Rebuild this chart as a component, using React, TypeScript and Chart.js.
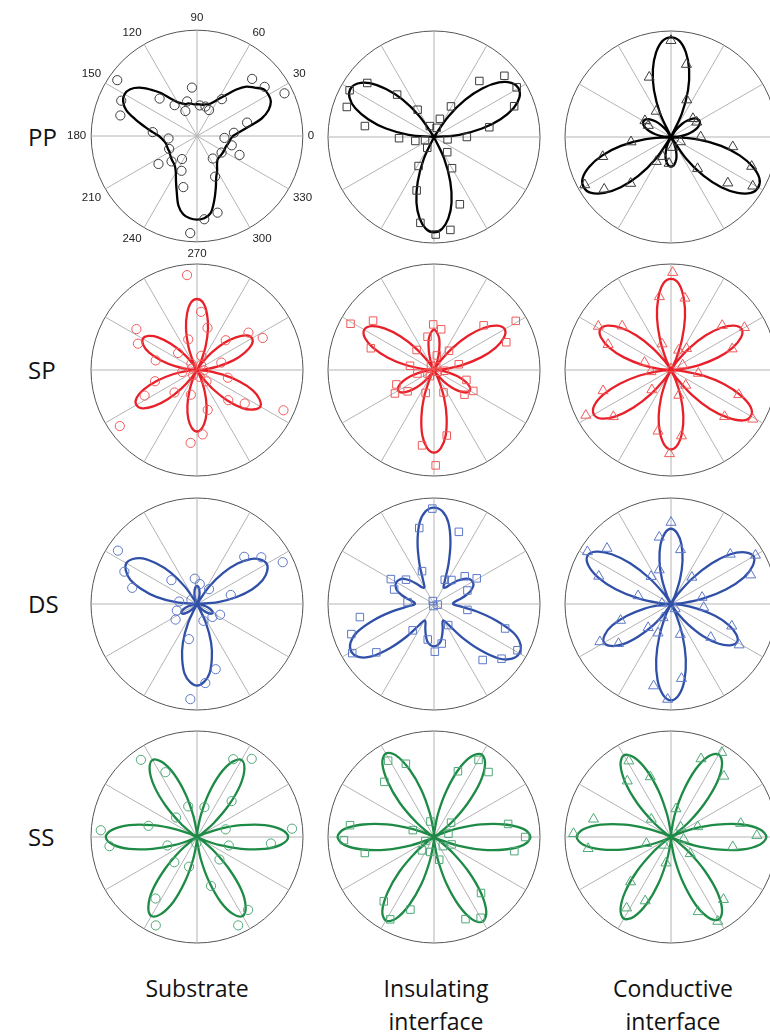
import React, { useEffect, useRef } from 'react';
import { Chart, registerables } from 'chart.js';

Chart.register(...registerables);

// ================= DATA =================
// Fitted curves: radius (fraction of outer circle) sampled every 5 degrees, theta = 0,5,...,355 (counter-clockwise from 0)
const CURVE_STEP_DEG = 5;
const ANGLE_TICKS = [0, 30, 60, 90, 120, 150, 180, 210, 240, 270, 300, 330];
const ROW_NAMES = ['PP', 'SP', 'DS', 'SS'];
const COL_NAMES = [['Substrate'], ['Insulating', 'interface'], ['Conductive', 'interface']];

const PP_SUB_CURVE = [
  .34, .40, .49, .63, .72, .77, .78, .77, .71, .66, .57, .47,
  .40, .35, .32, .31, .30, .30, .30, .30, .31, .32, .32, .34,
  .37, .43, .53, .62, .71, .77, .79, .77, .71, .60, .50, .42,
  .36, .33, .31, .30, .30, .30, .30, .31, .32, .33, .34, .36,
  .40, .47, .56, .68, .75, .78, .79, .78, .74, .63, .52, .43,
  .38, .33, .30, .29, .29, .29, .29, .29, .29, .30, .31, .32];
const PP_SUB_PTS_ANG = [145, 155, 165, 96, 135, 126, 106, 115, 85, 74, 65, 56, 46, 36, 26, 15, 5, 356, 345, 336, 326, 305, 294, 285, 275, 266, 255, 246, 237, 225, 216, 205, 185, 175];
const PP_SUB_PTS_R = [.92, .79, .75, .46, .50, .36, .34, .26, .29, .29, .27, .42, .75, .79, .92, .49, .35, .26, .34, .44, .28, .26, .42, .75, .79, .92, .50, .36, .26, .34, .45, .29, .27, .42];

const PP_INS_CURVE = [
  0, .24, .46, .65, .80, .89, .92, .89, .80, .65, .46, .24,
  0, 0, 0, 0, 0, 0, 0, 0, 0, 0, 0, 0,
  0, .24, .46, .64, .79, .88, .91, .88, .79, .64, .46, .24,
  0, 0, 0, 0, 0, 0, 0, 0, 0, 0, 0, 0,
  0, .23, .45, .64, .78, .87, .90, .87, .78, .64, .45, .23,
  0, 0, 0, 0, 0, 0, 0, 0, 0, 0, 0, 0];
const PP_INS_PTS_ANG = [151, 141, 161, 171, 131, 121, 182, 192, 200, 238, 111, 74, 72, 61, 51, 41, 31, 21, 10, 0, 350, 311, 300, 291, 280, 271, 261, 252, 242];
const PP_INS_PTS_R = [.91, .81, .87, .66, .53, .30, .33, .18, .09, .12, .11, .09, .18, .33, .68, .88, .91, .81, .53, .31, .13, .19, .34, .68, .89, .92, .82, .53, .31];

const PP_CON_CURVE = [
  0, .08, .16, .22, .27, .30, .31, .30, .27, .22, .16, .08,
  0, .24, .47, .66, .81, .91, .94, .91, .81, .66, .47, .24,
  0, .08, .15, .21, .26, .29, .30, .29, .26, .21, .15, .08,
  0, .25, .48, .67, .82, .92, .95, .92, .82, .67, .48, .25,
  0, .07, .14, .20, .24, .27, .28, .27, .24, .20, .14, .07,
  0, .25, .48, .67, .82, .92, .95, .92, .82, .67, .48, .25];
const PP_CON_PTS_ANG = [90, 78, 110, 67, 120, 148, 153, 40, 30, 0, 351, 340, 329, 321, 310, 266, 247, 239, 229, 218, 209, 196, 187, 333, 279];
const PP_CON_PTS_R = [.91, .70, .60, .38, .28, .29, .24, .27, .28, .28, .59, .81, .90, .69, .39, .25, .20, .27, .58, .80, .93, .67, .38, .10, .10];

const SP_SUB_CURVE = [
  0, .08, .21, .36, .48, .57, .60, .57, .48, .36, .21, .08,
  0, .09, .24, .40, .54, .64, .67, .64, .54, .40, .24, .09,
  0, .08, .21, .35, .48, .56, .59, .56, .48, .35, .21, .08,
  0, .09, .23, .39, .53, .63, .66, .63, .53, .39, .23, .09,
  0, .08, .21, .35, .47, .55, .58, .55, .47, .35, .21, .08,
  0, .09, .24, .41, .56, .65, .69, .65, .56, .41, .24, .09];
const SP_SUB_PTS_ANG = [96, 86, 76, 106, 146, 156, 167, 138, 46, 36, 26, 17, 346, 325, 316, 335, 195, 206, 225, 256, 285, 275, 265, 216, 73, 165, 51, 357, 291, 233, 188, 310, 132];
const SP_SUB_PTS_R = [.90, .55, .41, .30, .69, .61, .40, .24, .39, .60, .69, .24, .30, .55, .41, .90, .41, .55, .30, .24, .39, .61, .69, .90, .14, .05, .06, .065, .07, .06, .14, .14, .08];

const SP_INS_CURVE = [
  0, .10, .27, .46, .62, .73, .77, .73, .62, .46, .27, .10,
  0, .03, .10, .19, .29, .35, .38, .35, .29, .19, .10, .03,
  0, .10, .27, .45, .61, .72, .76, .72, .61, .45, .27, .10,
  0, .05, .14, .23, .31, .37, .39, .37, .31, .23, .14, .05,
  0, .10, .28, .46, .63, .74, .78, .74, .63, .46, .28, .10,
  0, .05, .14, .23, .31, .37, .39, .37, .31, .23, .14, .05];
const SP_INS_PTS_ANG = [151, 141, 161, 131, 170, 192, 201, 211, 219, 250, 101, 91, 80, 79, 52, 13, 343, 332, 321, 293, 42, 31, 21, 281, 261, 271, 121, 59, 336, 236, 356, 208];
const SP_INS_PTS_R = [.90, .74, .63, .25, .23, .16, .38, .43, .32, .23, .32, .43, .39, .14, .23, .24, .32, .42, .37, .23, .63, .90, .73, .63, .72, .90, .055, .04, .04, .07, .10, .07];

const SP_CON_CURVE = [
  0, .10, .27, .46, .62, .73, .77, .73, .62, .46, .27, .10,
  0, .11, .30, .51, .69, .82, .86, .82, .69, .51, .30, .11,
  0, .10, .27, .46, .62, .73, .77, .73, .62, .46, .27, .10,
  0, .11, .30, .50, .68, .80, .84, .80, .68, .50, .30, .11,
  0, .10, .27, .45, .60, .71, .75, .71, .60, .45, .27, .10,
  0, .11, .31, .52, .70, .83, .87, .83, .70, .52, .31, .11];
const SP_CON_PTS_ANG = [89, 99, 79, 109, 69, 54, 149, 138, 158, 164, 185, 23, 353, 41, 30, 19, 197, 208, 219, 226, 314, 287, 340, 319, 329, 279, 258, 269, 90];
const SP_CON_PTS_R = [.92, .70, .69, .26, .20, .25, .80, .62, .64, .26, .19, .12, .26, .64, .80, .61, .67, .91, .70, .26, .20, .25, .68, .67, .90, .63, .59, .79, .01];

const DS_SUB_CURVE = [
  0, .20, .38, .54, .66, .73, .76, .73, .66, .54, .38, .20,
  0, .01, .04, .09, .13, .16, .17, .16, .13, .09, .04, .01,
  0, .20, .39, .54, .67, .74, .77, .74, .67, .54, .39, .20,
  0, .01, .04, .09, .13, .16, .17, .16, .13, .09, .04, .01,
  0, .20, .39, .54, .67, .74, .77, .74, .67, .54, .39, .20,
  0, .01, .04, .09, .13, .16, .17, .16, .13, .09, .04, .01];
const DS_SUB_PTS_ANG = [146, 156, 166, 137, 172, 216, 95, 82, 51, 45, 36, 26, 15, 335, 320, 291, 257, 286, 276, 266, 143, 198];
const DS_SUB_PTS_R = [.90, .75, .63, .33, .17, .25, .24, .19, .18, .63, .75, .90, .33, .24, .19, .17, .34, .64, .75, .90, .066, .20];

const DS_INS_CURVE = [
  .18, .19, .24, .31, .37, .41, .42, .41, .37, .31, .24, .19,
  .18, .24, .40, .60, .78, .88, .91, .88, .78, .60, .40, .24,
  .18, .19, .24, .31, .37, .40, .41, .40, .37, .31, .24, .19,
  .18, .24, .40, .59, .77, .87, .90, .87, .77, .59, .40, .24,
  .18, .19, .24, .30, .36, .39, .40, .39, .36, .30, .24, .19,
  .18, .24, .41, .61, .80, .90, .93, .90, .80, .61, .41, .24];
const DS_INS_PTS_ANG = [91, 101, 71, 110, 150, 139, 160, 176, 66, 54, 42, 31, 22, 350, 112, 350, 254, 190, 200, 211, 220, 231, 260, 281, 271, 304, 341, 331, 321, 311];
const DS_INS_PTS_R = [.90, .73, .72, .33, .47, .35, .40, .25, .25, .28, .39, .47, .34, .32, .03, .035, .02, .71, .83, .90, .71, .32, .34, .38, .45, .24, .71, .90, .82, .70];

const DS_CON_CURVE = [
  0, .12, .32, .54, .73, .85, .90, .85, .73, .54, .32, .12,
  0, .09, .25, .42, .57, .67, .71, .67, .57, .42, .25, .09,
  0, .12, .32, .54, .73, .86, .91, .86, .73, .54, .32, .12,
  0, .10, .26, .43, .59, .69, .73, .69, .59, .43, .26, .10,
  0, .12, .32, .54, .73, .86, .91, .86, .73, .54, .32, .12,
  0, .10, .25, .43, .58, .68, .72, .68, .58, .43, .25, .10];
const DS_CON_PTS_ANG = [90, 100, 80, 109, 126, 148, 139, 159, 166, 176, 311, 52, 12, 354, 40, 30, 20, 198, 208, 217, 226, 246, 240, 287, 320, 340, 329, 278, 258, 268];
const DS_CON_PTS_R = [.77, .64, .52, .34, .32, .93, .80, .73, .32, .085, .06, .32, .30, .31, .73, .92, .80, .50, .76, .62, .31, .30, .15, .30, .49, .61, .75, .71, .79, .90];

const SS_SUB_CURVE = [
  .86, .80, .65, .43, .22, .06, 0, .06, .21, .42, .63, .78,
  .84, .78, .63, .42, .21, .06, 0, .06, .21, .42, .63, .78,
  .84, .78, .63, .42, .21, .06, 0, .06, .22, .43, .65, .80,
  .86, .80, .65, .43, .22, .06, 0, .06, .22, .43, .65, .80,
  .86, .80, .65, .43, .22, .06, 0, .06, .22, .43, .65, .80,
  .86, .80, .65, .43, .22, .06, 0, .06, .22, .43, .65, .80];
const SS_SUB_PTS_ANG = [126, 116, 106, 137, 167, 176, 186, 196, 228, 255, 236, 245, 286, 315, 345, 15, 46, 76, 65, 55, 355, 5, 305, 295, 264];
const SS_SUB_PTS_R = [.90, .68, .30, .27, .47, .91, .83, .29, .32, .29, .70, .92, .48, .30, .31, .28, .47, .29, .81, .90, .70, .90, .84, .92, .06];

const SS_INS_CURVE = [
  .91, .85, .68, .46, .23, .06, 0, .06, .23, .45, .68, .84,
  .90, .84, .68, .45, .23, .06, 0, .06, .23, .46, .68, .85,
  .91, .85, .68, .46, .23, .06, 0, .06, .23, .46, .68, .85,
  .91, .85, .68, .46, .23, .06, 0, .06, .23, .46, .68, .85,
  .91, .85, .68, .46, .23, .06, 0, .06, .23, .46, .69, .86,
  .92, .86, .69, .46, .23, .06, 0, .06, .23, .46, .68, .85];
const SS_INS_PTS_ANG = [121, 111, 132, 172, 182, 193, 162, 103, 40, 13, 337, 283, 256, 228, 70, 60, 50, 10, 0, 350, 310, 291, 300, 232, 242, 252, 314, 205];
const SS_INS_PTS_R = [.84, .74, .70, .80, .85, .67, .21, .15, .21, .14, .18, .22, .145, .17, .66, .84, .80, .71, .86, .77, .69, .83, .88, .77, .88, .72, .12, .09];

const SS_CON_CURVE = [
  .90, .84, .68, .45, .23, .06, 0, .06, .23, .45, .68, .84,
  .90, .84, .68, .45, .23, .06, 0, .06, .22, .45, .67, .83,
  .89, .83, .67, .45, .22, .06, 0, .06, .22, .45, .67, .83,
  .89, .83, .67, .45, .22, .06, 0, .06, .22, .45, .67, .83,
  .89, .83, .67, .45, .22, .06, 0, .06, .23, .45, .68, .84,
  .90, .84, .68, .45, .23, .06, 0, .06, .23, .45, .68, .84];
const SS_CON_PTS_ANG = [119, 128, 109, 167, 178, 188, 195, 138, 80, 45, 21, 350, 319, 259, 69, 59, 49, 11, 1, 351, 228, 238, 248, 290, 310, 299, 231];
const SS_CON_PTS_R = [.82, .67, .60, .75, .92, .79, .24, .25, .27, .13, .27, .12, .24, .25, .79, .93, .76, .67, .81, .59, .57, .79, .65, .75, .77, .91, .10];

const PANELS = [
  { row: 0, col: 0, curve: PP_SUB_CURVE, ang: PP_SUB_PTS_ANG, rad: PP_SUB_PTS_R },
  { row: 0, col: 1, curve: PP_INS_CURVE, ang: PP_INS_PTS_ANG, rad: PP_INS_PTS_R },
  { row: 0, col: 2, curve: PP_CON_CURVE, ang: PP_CON_PTS_ANG, rad: PP_CON_PTS_R },
  { row: 1, col: 0, curve: SP_SUB_CURVE, ang: SP_SUB_PTS_ANG, rad: SP_SUB_PTS_R },
  { row: 1, col: 1, curve: SP_INS_CURVE, ang: SP_INS_PTS_ANG, rad: SP_INS_PTS_R },
  { row: 1, col: 2, curve: SP_CON_CURVE, ang: SP_CON_PTS_ANG, rad: SP_CON_PTS_R },
  { row: 2, col: 0, curve: DS_SUB_CURVE, ang: DS_SUB_PTS_ANG, rad: DS_SUB_PTS_R },
  { row: 2, col: 1, curve: DS_INS_CURVE, ang: DS_INS_PTS_ANG, rad: DS_INS_PTS_R },
  { row: 2, col: 2, curve: DS_CON_CURVE, ang: DS_CON_PTS_ANG, rad: DS_CON_PTS_R },
  { row: 3, col: 0, curve: SS_SUB_CURVE, ang: SS_SUB_PTS_ANG, rad: SS_SUB_PTS_R },
  { row: 3, col: 1, curve: SS_INS_CURVE, ang: SS_INS_PTS_ANG, rad: SS_INS_PTS_R },
  { row: 3, col: 2, curve: SS_CON_CURVE, ang: SS_CON_PTS_ANG, rad: SS_CON_PTS_R },
];

// ================= STYLE / LAYOUT =================
const CX = [197, 434, 671];
const CY = [137, 370, 604, 837];
const RADIUS = 106;
const PAD = 3;
const LABELED_SIZE = 266;
const LABELED_SHIFT_X = 6;
const CURVE_COLORS = ['#000000', '#e8202a', '#3050a8', '#1d8a45'];
const MARK_COLORS = ['#3c3c3c', '#f25a5a', '#5d78c8', '#4fa877'];
const MARK_STYLES = ['circle', 'rect', 'triangle'];
const MARK_RADII = [4.6, 5.3, 5.8];
const TICK_FONT = '"Liberation Sans", Arial, sans-serif';
const TEXT_FONT = '"Open Sans", "Liberation Sans", Arial, sans-serif';
const COL_LABEL_Y = 988;
const COL_LABEL_LINE = 33;

const N_SLOTS = 360;
const SLOT_LABELS = Array.from({ length: N_SLOTS }, (_, i) => String((N_SLOTS - i) % N_SLOTS));

function slotOf(deg: number): number {
  const d = ((Math.round(deg) % 360) + 360) % 360;
  return (N_SLOTS - d) % N_SLOTS;
}

function PolarPanel({ panel }: { panel: any }) {
  const ref = useRef<HTMLCanvasElement>(null);
  const labeled = panel.row === 0 && panel.col === 0;
  const size = labeled ? LABELED_SIZE : 2 * RADIUS + 2 * PAD;
  const left = CX[panel.col] - size / 2 - (labeled ? LABELED_SHIFT_X : 0);
  const top = CY[panel.row] - size / 2;

  useEffect(() => {
    const curveData: (number | null)[] = new Array(N_SLOTS).fill(null);
    panel.curve.forEach((v: number, k: number) => {
      curveData[slotOf(k * CURVE_STEP_DEG)] = v;
    });
    const pointSets: (number | null)[][] = [];
    panel.ang.forEach((a: number, j: number) => {
      const idx = slotOf(a);
      let set = pointSets.find((s) => s[idx] == null);
      if (!set) {
        set = new Array(N_SLOTS).fill(null);
        pointSets.push(set);
      }
      set[idx] = panel.rad[j];
    });
    const curveColor = CURVE_COLORS[panel.row];
    const markColor = MARK_COLORS[panel.row];
    const datasets: any[] = [
      ...pointSets.map((s) => ({
        data: s,
        showLine: false,
        fill: false,
        borderWidth: 0,
        pointStyle: MARK_STYLES[panel.col],
        pointRadius: MARK_RADII[panel.col],
        pointBorderWidth: 1,
        pointBorderColor: markColor,
        pointBackgroundColor: 'rgba(0,0,0,0)',
      })),
      {
        data: curveData,
        spanGaps: true,
        tension: 0.35,
        fill: false,
        borderColor: curveColor,
        borderWidth: 2.3,
        pointRadius: 0,
      },
    ];
    const chart = new Chart(ref.current as HTMLCanvasElement, {
      type: 'radar',
      data: { labels: SLOT_LABELS, datasets },
      options: {
        animation: false,
        responsive: false,
        maintainAspectRatio: false,
        events: [],
        layout: { padding: PAD },
        plugins: { legend: { display: false }, tooltip: { enabled: false } },
        scales: {
          r: {
            min: 0,
            max: 1,
            startAngle: 90,
            ticks: { display: false, stepSize: 1 },
            grid: { circular: true, color: '#555555', lineWidth: 1 },
            angleLines: {
              display: true,
              color: '#b4b4b4',
              lineWidth: (ctx: any) => (ANGLE_TICKS.includes(Number(SLOT_LABELS[ctx.index])) ? 1 : 0),
            },
            pointLabels: {
              display: labeled,
              padding: 5,
              color: '#222',
              font: { family: TICK_FONT, size: 11.5 },
              callback: (label: string) => (ANGLE_TICKS.includes(Number(label)) ? label : ''),
            },
          },
        },
      } as any,
    });
    return () => chart.destroy();
  }, []);

  return (
    <canvas
      ref={ref}
      width={size}
      height={size}
      style={{ position: 'absolute', left, top, width: size, height: size }}
    />
  );
}

export default function App() {
  return (
    <div
      style={{
        position: 'absolute',
        left: 0,
        top: 0,
        width: 770,
        height: 1035,
        overflow: 'hidden',
        background: '#ffffff',
        fontFamily: TEXT_FONT,
        color: '#111',
      }}
    >
      {PANELS.map((p, i) => (
        <PolarPanel key={i} panel={p} />
      ))}
      {ROW_NAMES.map((name, r) => (
        <div
          key={name}
          style={{ position: 'absolute', left: 28, top: CY[r], transform: 'translateY(-50%)', fontSize: 24, lineHeight: '28px' }}
        >
          {name}
        </div>
      ))}
      {COL_NAMES.map((lines, c) =>
        lines.map((line, k) => (
          <div
            key={c + '-' + k}
            style={{
              position: 'absolute',
              left: CX[c] + (c === 0 ? 0 : 2),
              top: COL_LABEL_Y + k * COL_LABEL_LINE,
              transform: 'translate(-50%, -50%)',
              fontSize: 23,
              lineHeight: '28px',
              whiteSpace: 'nowrap',
            }}
          >
            {line}
          </div>
        ))
      )}
    </div>
  );
}
